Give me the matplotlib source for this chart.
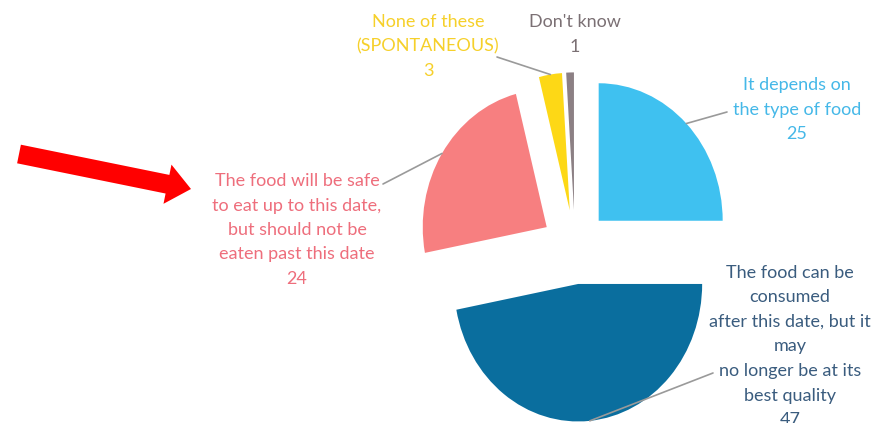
import matplotlib
matplotlib.use("Agg")
import matplotlib.pyplot as plt
import matplotlib.patches as mpatches

# ── data ─────────────────────────────────────────────────────────────────────
labels = [
    "It depends on\nthe type of food",
    "The food can be\nconsumed\nafter this date, but it\nmay\nno longer be at its\nbest quality",
    "The food will be safe\nto eat up to this date,\nbut should not be\neaten past this date",
    "None of these\n(SPONTANEOUS)",
    "Don't know",
]
values = [25, 47, 24, 3, 1]
slice_colors = ["#3FC1F0", "#0A6E9E", "#F77F80", "#FDD816", "#8C8084"]
text_colors = ["#45B8E8", "#3A5C7E", "#EE6E7C", "#F6D02A", "#7B7074"]

# ── layout (pixels of the 871x423 picture) ───────────────────────────────────
W, H = 871, 423
CX, CY = 575, 247        # pie centre
RX, RY = 124, 137.5      # pie radius, picture is slightly stretched vertically
EXPLODE = 0.27

plt.rcParams["font.family"] = ["Liberation Sans Narrow", "Lato", "DejaVu Sans"]

fig = plt.figure(figsize=(W / 100, H / 100), dpi=100)

ax = fig.add_axes([0, 0, 1, 1])
wedges, _ = ax.pie(values, colors=slice_colors, startangle=90, counterclock=False,
                   explode=[EXPLODE] * len(values), radius=1,
                   wedgeprops=dict(linewidth=0))
ax.set_aspect("auto")
ax.set_xlim(-CX / RX, (W - CX) / RX)
ax.set_ylim((CY - H) / RY, CY / RY)
ax.axis("off")

# overlay in pixel coordinates for labels / arrow
ov = fig.add_axes([0, 0, 1, 1])
ov.set_xlim(0, W)
ov.set_ylim(H, 0)
ov.axis("off")
ov.patch.set_alpha(0)

# label block centre (x, y of first line) and leader end point
label_pos = [(797, 85), (790, 273), (297, 181), (428, 22), (575, 22)]
leader_end = [(727, 112), (713, 373), (383, 184), (497, 57), None]

FS = 13
LS = 24.5

import numpy as np
for i, w in enumerate(wedges):
    x0, y0 = label_pos[i]
    lines = labels[i].split("\n") + [str(values[i])]
    for k, ln in enumerate(lines):
        ov.text(x0, y0 + k * LS, ln, ha="center", va="center",
                fontsize=FS, color=text_colors[i])
    if leader_end[i] is not None:
        mid = np.deg2rad((w.theta1 + w.theta2) / 2)
        cx, cy = w.center
        xy = (cx + w.r * np.cos(mid), cy + w.r * np.sin(mid))
        ov.annotate("", xy=xy, xycoords=ax.transData,
                    xytext=leader_end[i], textcoords="data",
                    arrowprops=dict(arrowstyle="-", color="#9A9A9A", lw=1.2,
                                    shrinkA=0, shrinkB=0))

# red arrow pointing at the salmon label
ov.add_patch(mpatches.FancyArrow(19, 154, 172, 35, width=19, head_width=40,
                                 head_length=24, length_includes_head=True,
                                 color="#FF0000", linewidth=0))

fig.savefig("out.png", dpi=100)
